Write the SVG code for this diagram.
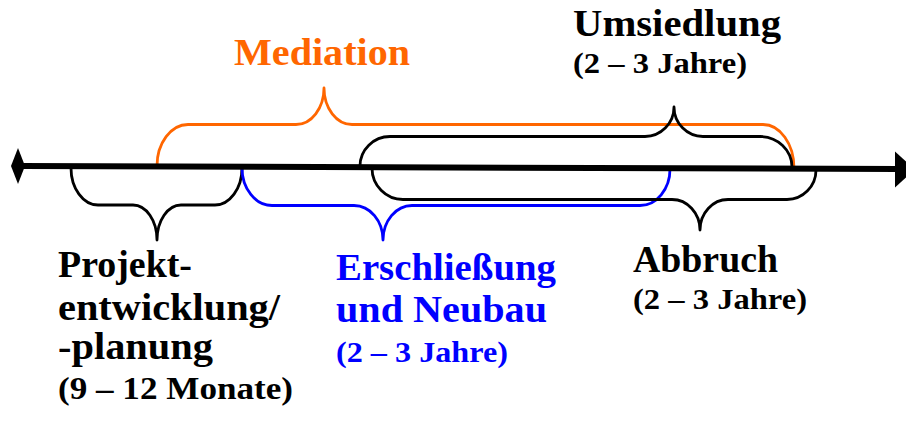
<svg xmlns="http://www.w3.org/2000/svg" width="906" height="421" viewBox="0 0 906 421">
<style>
.br{fill:none;stroke-width:2.8;stroke-linecap:round;stroke-linejoin:round}
.k{stroke:#000}
.o{stroke:#FF6600}
.b{stroke:#0000FF}
text{font-family:"Liberation Serif","Times New Roman",serif;font-weight:bold}
.big{font-size:37px}
.sm{font-size:30px}
.tk{fill:#000}
.to{fill:#FF6600}
.tb{fill:#0000FF}
</style>
<rect width="906" height="421" fill="#fff"/>
<g id="connectors">
<path id="brace-projekt" class="br k" d="M71,168 C71,188.4 83.2,205 98,205 L133,205 C146.2,205 157,220.8 157,240 C157,220.8 167.8,205 181,205 L215,205 C229.8,205 242,188.4 242,168"/>
<path id="brace-erschliessung" class="br b" d="M242,168 C242,188.6 255.5,205.5 272,205.5 L354,205.5 C370,205.5 383,221 383,240 C383,221 396,205.5 412,205.5 L640,205.5 C656.5,205.5 670,189.1 670,169"/>
<path id="brace-mediation" class="br o" d="M157,166 C157,143.2 171,124.5 188,124.5 L296,124.5 C311.4,124.5 324,108.1 324,88 C324,108.1 336.6,124.5 352,124.5 L763,124.5 C780,124.5 794,143.9 794,168"/>
<path id="brace-umsiedlung" class="br k" d="M360,166 C360,149.8 373.5,136.5 390,136.5 L645,136.5 C661,136.5 674,123.2 674,107 C674,123.2 687,136.5 703,136.5 L760,136.5 C777.6,136.5 792,150.2 792,167"/>
<path id="brace-abbruch" class="br k" d="M372,168 C372,185.3 385.9,199.5 403,199.5 L672,199.5 C687.4,199.5 700,213.2 700,230 C700,213.2 712.6,199.5 728,199.5 L787,199.5 C803,199.5 816,186.2 816,170"/>
<g id="axis">
<line x1="22" y1="166" x2="898" y2="169" stroke="#000" stroke-width="6"/>
<polygon points="11,166 18,148 25,166 18,184" fill="#000"/>
<polygon points="895,151.5 915,169.5 895,187.5" fill="#000"/>
</g>
</g>
<g id="mediation">
<text class="big to" x="234" y="65" textLength="176" lengthAdjust="spacingAndGlyphs">Mediation</text>
</g>
<g id="umsiedlung">
<text class="big tk" x="573" y="36" textLength="208" lengthAdjust="spacingAndGlyphs">Umsiedlung</text>
<text class="sm tk" x="573" y="73" textLength="174" lengthAdjust="spacingAndGlyphs">(2 – 3 Jahre)</text>
</g>
<g id="projekt">
<text class="big tk" x="58" y="277" textLength="134" lengthAdjust="spacingAndGlyphs">Projekt-</text>
<text class="big tk" x="58" y="320" textLength="222" lengthAdjust="spacingAndGlyphs">entwicklung/</text>
<text class="big tk" x="58" y="359" textLength="155" lengthAdjust="spacingAndGlyphs">-planung</text>
<text class="tk" style="font-size:32px" x="58" y="399" textLength="235" lengthAdjust="spacingAndGlyphs">(9 – 12 Monate)</text>
</g>
<g id="erschliessung">
<text class="big tb" x="336" y="280" textLength="220" lengthAdjust="spacingAndGlyphs">Erschließung</text>
<text class="big tb" x="336" y="322" textLength="211" lengthAdjust="spacingAndGlyphs">und Neubau</text>
<text class="sm tb" x="336" y="362" textLength="172" lengthAdjust="spacingAndGlyphs">(2 – 3 Jahre)</text>
</g>
<g id="abbruch">
<text class="big tk" x="633" y="272" textLength="145" lengthAdjust="spacingAndGlyphs">Abbruch</text>
<text class="sm tk" x="633" y="309" textLength="174" lengthAdjust="spacingAndGlyphs">(2 – 3 Jahre)</text>
</g>
</svg>
